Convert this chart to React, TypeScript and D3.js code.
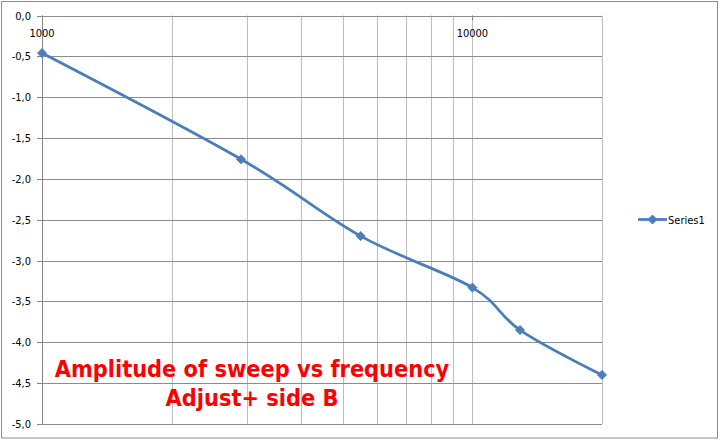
import React from 'react';
import * as d3 from 'd3';

const frequencies = [1000, 2900, 5500, 10000, 12900, 20000];
const amplitudes = [-0.46, -1.76, -2.7, -3.33, -3.85, -4.4];
const xLabelTicks = [1000, 10000];
const xGridTicks = [2000, 3000, 4000, 5000, 6000, 7000, 8000, 9000, 10000];
const yTicks = [0, -0.5, -1, -1.5, -2, -2.5, -3, -3.5, -4, -4.5, -5];
const seriesName = 'Series1';
const titleLines = ['Amplitude of sweep vs frequency', 'Adjust+ side B'];

const W = 722;
const H = 440;
const plot = { left: 42, right: 602, top: 15.5, bottom: 424 };
const blue = '#4a7ebb';
const font = "'DejaVu Sans', 'Liberation Sans', sans-serif";

const Diamond = ({ x, y, r = 4.5 }: { x: number; y: number; r?: number }) => (
  <path d={`M${x},${y - r}L${x + r},${y}L${x},${y + r}L${x - r},${y}Z`} fill={blue} stroke={blue} strokeWidth={1} />
);

const App: React.FC = () => {
  const x = d3.scaleLog().domain([1000, 20000]).range([plot.left, plot.right]);
  const y = d3.scaleLinear().domain([0, -5]).range([plot.top, plot.bottom]);

  const pts: [number, number][] = frequencies.map((f, i) => [x(f), y(amplitudes[i])]);
  const line = d3.line().curve(d3.curveCardinal.tension(0))(pts) || '';
  const fmt = (v: number) => d3.format('.1f')(v).replace('.', ',').replace('−', '-');

  return (
    <svg width={W} height={H} style={{ position: 'fixed', left: 0, top: 0, background: '#fff' }} fontFamily={font}>
      <rect x={0} y={0} width={W} height={H} fill="#fff" />
      <rect x={1.5} y={1.5} width={716} height={436.5} fill="none" stroke="#8c8c8c" strokeWidth={1} />

      {/* vertical grid */}
      {xGridTicks.map(t => (
        <line key={'vx' + t} x1={Math.round(x(t)) + 0.5} x2={Math.round(x(t)) + 0.5} y1={plot.top} y2={plot.bottom} stroke="#bdbdbd" />
      ))}
      <line x1={plot.right + 0.5} x2={plot.right + 0.5} y1={plot.top} y2={plot.bottom} stroke="#bdbdbd" />

      {/* horizontal grid */}
      {yTicks.map(t => (
        <line key={'hy' + t} x1={plot.left} x2={plot.right} y1={Math.round(y(t)) + 0.5} y2={Math.round(y(t)) + 0.5} stroke="#8c8c8c" />
      ))}

      {/* y axis */}
      <line x1={plot.left + 0.5} x2={plot.left + 0.5} y1={plot.top} y2={plot.bottom} stroke="#868686" />
      {yTicks.map(t => (
        <g key={'yt' + t}>
          <line x1={plot.left - 5} x2={plot.left} y1={Math.round(y(t)) + 0.5} y2={Math.round(y(t)) + 0.5} stroke="#868686" />
          <text x={31} y={y(t) + 4} textAnchor="end" fontSize={11} fill="#000" style={{ fontStretch: 'condensed' }}>{fmt(t)}</text>
        </g>
      ))}

      {/* x axis labels (drawn under the 0 line) */}
      {xLabelTicks.map(t => (
        <g key={'xt' + t}>
          <line x1={Math.round(x(t)) + 0.5} x2={Math.round(x(t)) + 0.5} y1={plot.top} y2={plot.top + 5} stroke="#868686" />
          <text x={x(t)} y={37} textAnchor="middle" fontSize={11} fill="#000" style={{ fontStretch: 'condensed' }}>{t}</text>
        </g>
      ))}

      {/* series */}
      <path d={line} fill="none" stroke={blue} strokeWidth={2.75} strokeLinejoin="round" />
      {pts.map(([px, py], i) => <Diamond key={i} x={px} y={py} />)}

      {/* legend */}
      <line x1={638} x2={667} y1={219.5} y2={219.5} stroke={blue} strokeWidth={2.75} />
      <Diamond x={652.5} y={219.5} />
      <text x={668} y={223.5} fontSize={11} fill="#000" style={{ fontStretch: 'condensed' }}>{seriesName}</text>

      {/* title annotation */}
      {titleLines.map((s, i) => (
        <text key={i} x={252} y={377 + i * 29} textAnchor="middle" fontSize={23.3} fontWeight="bold" fill="#ff0000" style={{ fontStretch: 'condensed' }}>{s}</text>
      ))}
    </svg>
  );
};

export default App;
